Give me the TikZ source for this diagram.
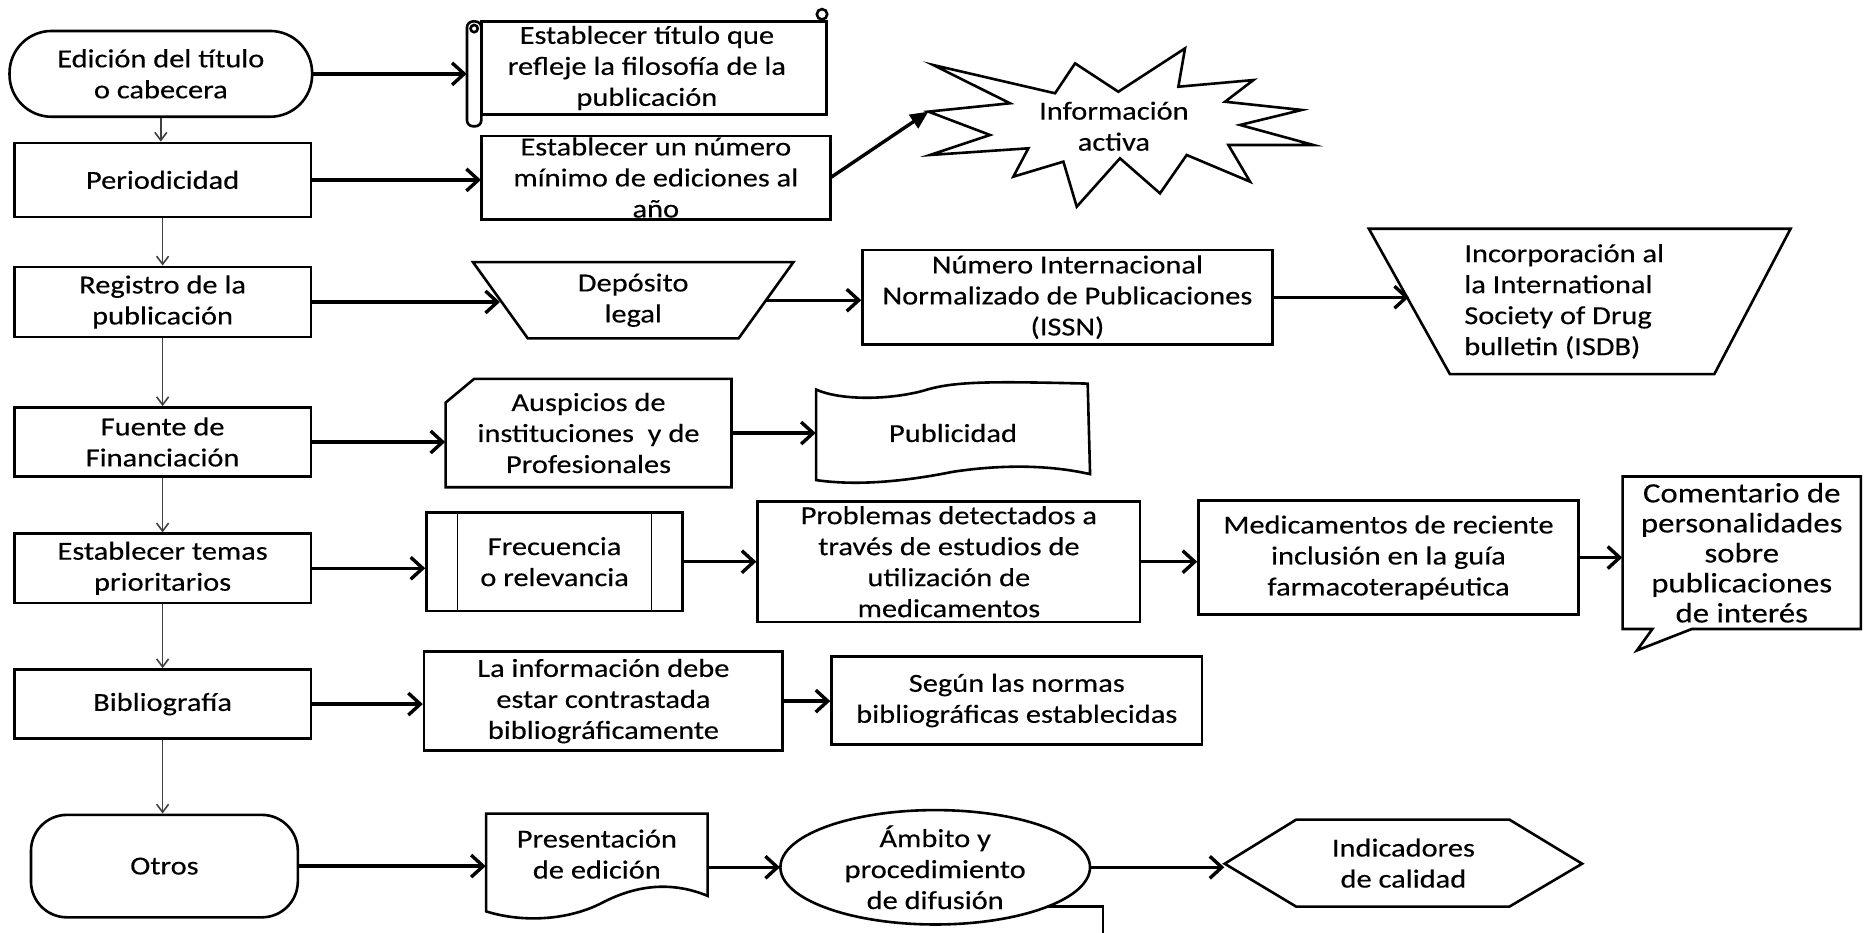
\documentclass[tikz,border=0pt]{standalone}
\usepackage{fontspec}
\setmainfont{Carlito}[FakeStretch=1.17, FakeBold=0.3]
\usetikzlibrary{arrows.meta}
\begin{document}
\begin{tikzpicture}[x=0.5957pt,y=-0.5957pt,
  every node/.style={font=\fontsize{13}{15.5}\selectfont, align=center, inner sep=0pt},
  % a node spanning the rectangle (x1,y1)-(x2,y2)
  area/.style n args={4}{at={({(#1+#3)/2},{(#2+#4)/2})},
    minimum width={(#3-#1)*0.5957pt}, minimum height={(#4-#2)*0.5957pt}},
  shp/.style={draw=black, line width=1.3pt, fill=white, line join=miter},
  flow/.style={line width=1.7pt, -{Straight Barb[length=6pt,width=11pt]}},
  burst/.style={line width=1.7pt, -{Triangle[length=9pt,width=8pt]}},
  down/.style={line width=0.8pt, draw=black!75, -{Straight Barb[length=4pt,width=6pt]}},
  thinline/.style={line width=0.7pt},
]
\useasboundingbox (0,0) rectangle (1568,783);

% ---- left column ----
\node[shp, area={8}{26}{262}{98}, rounded corners=21pt] (edicion) {Edición del título\\o cabecera};
\node[shp, area={12}{120}{261}{182}] (periodicidad) {Periodicidad};
\node[shp, area={12}{224}{261}{283}] (registro) {Registro de la\\publicación};
\node[shp, area={12}{342}{261}{400}] (fuente) {Fuente de\\Financiación};
\node[shp, area={12}{448}{261}{506}] (temas) {Establecer temas\\prioritarios};
\node[shp, area={12}{562}{261}{620}] (bibliografia) {Bibliografía};
\node[shp, area={26}{684}{250}{770}, rounded corners=18pt] (otros) {Otros};

% ---- row 1: scroll ----
\draw[shp] (404,18) rectangle (694,96);
\draw[shp] (690,12) circle[radius=2.6pt];
\draw[shp, rounded corners=3pt] (392,18) rectangle (404,106);
\draw[shp] (398,24) circle[radius=1.8pt];
\node[area={392}{18}{694}{96}] (titulo) {Establecer título que\\refleje la filosofía de la\\publicación};

% ---- row 2 ----
\draw[shp] (404,114) rectangle (697,184);
\node[area={404}{114}{697}{184}] (numero) {Establecer un número\\mínimo de ediciones al\\año};

% starburst
\draw[shp] (779.3,93.7) -- (847.8,86.7) -- (783.4,54.6) -- (885.6,78.3) -- (902.4,53.2)
  -- (938.7,77) -- (994.7,40.6) -- (989.1,72.8) -- (1052.1,67.2) -- (1028.3,85.4)
  -- (1092.7,92.3) -- (1040.9,104.9) -- (1102.4,121.7) -- (1031.1,121.7) -- (1049.3,152.5)
  -- (996.1,130.1) -- (973.7,162.3) -- (940.1,132.9) -- (903.8,173.5) -- (892.6,135.7)
  -- (850.6,148.3) -- (863.2,124.5) -- (780.7,130.1) -- (831,113.3) -- cycle;
\node at (935,106) (activa) {Información\\activa};
\coordinate (startip) at (779.3,93.7);

% ---- row 3 ----
\draw[shp] (397,220) -- (666,220) -- (620,284) -- (443,284) -- cycle;
\node[area={420}{220}{643}{284}] (deposito) {Depósito\\legal};
\node[shp, area={724}{210}{1068}{289}] (issn) {Número Internacional\\Normalizado de Publicaciones\\(ISSN)};
\draw[shp] (1149,192) -- (1503,192) -- (1439,314) -- (1217,314) -- cycle;
\node[area={1183}{192}{1443}{314}, align=left] (isdb) {Incorporación al\\la International\\Society of Drug\\bulletin (ISDB)};

% ---- row 4 ----
\draw[shp] (374,338) -- (398,318) -- (614,318) -- (614,409) -- (374,409) -- cycle;
\node[area={374}{318}{614}{409}] (auspicios) {Auspicios de\\instituciones\ \ y de\\Profesionales};
\draw[shp] (685,327) .. controls (705,336) and (745,336) .. (775,328)
  .. controls (800,320) and (830,320) .. (913,322) -- (915,398)
  .. controls (880,390) and (840,390) .. (800,396)
  .. controls (760,404) and (720,408) .. (685,403) -- cycle;
\node[area={685}{322}{915}{405}] (publicidad) {Publicidad};

% ---- row 5 ----
\node[shp, area={358}{430}{573}{513}] (frecuencia) {Frecuencia\\o relevancia};
\draw[thinline] (384,430) -- (384,513);
\draw[thinline] (547,430) -- (547,513);
\node[shp, area={636}{421}{957}{522}] (problemas) {Problemas detectados a\\través de estudios de\\utilización de\\medicamentos};
\node[shp, area={1006}{420}{1325}{516}] (medicamentos) {Medicamentos de reciente\\inclusión en la guía\\farmacoterapéutica};
\draw[shp] (1362,400) -- (1562,400) -- (1562,528) -- (1420,528) -- (1374,546)
  -- (1387,528) -- (1362,528) -- cycle;
\node[area={1362}{400}{1562}{528}, font=\fontsize{14}{15}\selectfont] (comentario) {Comentario de\\personalidades\\sobre\\publicaciones\\de interés};

% ---- row 6 ----
\node[shp, area={356}{547}{657}{630}] (lainfo) {La información debe\\estar contrastada\\bibliográficamente};
\node[shp, area={698}{551}{1009}{625}] (segun) {Según las normas\\bibliográficas establecidas};

% ---- row 7 ----
\draw[shp] (408,683) -- (594,683) -- (594,752)
  .. controls (560,738) and (530,745) .. (505,758)
  .. controls (478,772) and (440,775) .. (408,765) -- cycle;
\node[area={408}{683}{594}{751}] (presentacion) {Presentación\\de edición};
\draw[shp] (785,728) ellipse[x radius=77.4pt, y radius=28.6pt];
\draw[shp, fill=none] (880,761) -- (926,761) -- (926,783);
\node[area={655}{680}{915}{776}] (ambito) {Ámbito y\\procedimiento\\de difusión};
\draw[shp] (1028,725) -- (1088,688) -- (1267,688) -- (1328,725) -- (1267,761) -- (1088,761) -- cycle;
\node[area={1028}{688}{1328}{761}] (indicadores) {Indicadores\\de calidad};

% ---- vertical connectors ----
\draw[down] (edicion.south) -- (edicion.south |- periodicidad.north);
\draw[down] (periodicidad.south) -- (periodicidad.south |- registro.north);
\draw[down] (registro.south) -- (registro.south |- fuente.north);
\draw[down] (fuente.south) -- (fuente.south |- temas.north);
\draw[down] (temas.south) -- (temas.south |- bibliografia.north);
\draw[down] (bibliografia.south) -- (bibliografia.south |- otros.north);

% ---- horizontal connectors ----
\draw[flow] (edicion.east) -- (edicion.east -| titulo.west);
\draw[flow] (periodicidad.east) -- (periodicidad.east -| numero.west);
\draw[burst] (numero.east) -- (startip);
\draw[flow] (registro.east) -- (registro.east -| deposito.west);
\draw[flow] (deposito.east) -- (deposito.east -| issn.west);
\draw[flow] (issn.east) -- (issn.east -| isdb.west);
\draw[flow] (fuente.east) -- (fuente.east -| auspicios.west);
\draw[flow] (auspicios.east) -- (auspicios.east -| publicidad.west);
\draw[flow] (temas.east) -- (temas.east -| frecuencia.west);
\draw[flow] (frecuencia.east) -- (frecuencia.east -| problemas.west);
\draw[flow] (problemas.east) -- (problemas.east -| medicamentos.west);
\draw[flow] (medicamentos.east) -- (medicamentos.east -| comentario.west);
\draw[flow] (bibliografia.east) -- (bibliografia.east -| lainfo.west);
\draw[flow] (lainfo.east) -- (lainfo.east -| segun.west);
\draw[flow] (otros.east) -- (otros.east -| presentacion.west);
\draw[flow] (presentacion.east |- ambito.west) -- (ambito.west);
\draw[flow] (ambito.east) -- (ambito.east -| indicadores.west);
\end{tikzpicture}
\end{document}
